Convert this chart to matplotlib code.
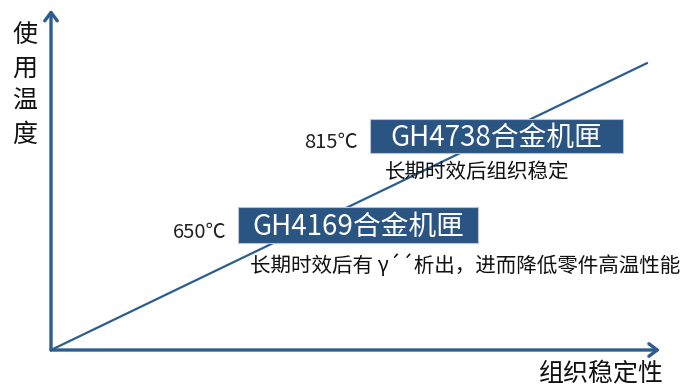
import matplotlib.pyplot as plt
from matplotlib.patches import Rectangle

plt.rcParams['font.family'] = ['Noto Sans CJK SC', 'DejaVu Sans']

# trend: higher service temperature with higher microstructure stability
trend_x = [0.0, 0.98]
trend_y = [0.0, 0.84]

alloys = ['GH4738合金机匣', 'GH4169合金机匣']
temps = ['815℃', '650℃']
notes = ['长期时效后组织稳定', '长期时效后有 γ´´析出，进而降低零件高温性能']
box_x = [0.524, 0.307]
box_y = [0.576, 0.313]
box_w = [0.415, 0.394]
box_h = [0.099, 0.105]
temp_x = [0.503, 0.288]
note_x = [0.548, 0.327]
note_y = [0.520, 0.246]

blue = '#2c5d8f'
box_blue = '#2a5482'

fig = plt.figure(figsize=(7, 3.87), dpi=100)
ax = fig.add_axes([51 / 700, 37 / 387, 609 / 700, 342 / 387])
ax.set_xlim(0, 1)
ax.set_ylim(0, 1)
ax.axis('off')

# axes drawn as arrows
ax.annotate('', xy=(1.0, 0), xytext=(0, 0), xycoords='axes fraction',
            arrowprops=dict(arrowstyle='->,head_length=0.6,head_width=0.45',
                            color=blue, lw=2.4, shrinkA=0, shrinkB=0))
ax.annotate('', xy=(0, 0.995), xytext=(0, 0), xycoords='axes fraction',
            arrowprops=dict(arrowstyle='->,head_length=0.6,head_width=0.45',
                            color=blue, lw=2.4, shrinkA=0, shrinkB=0))

ax.plot(trend_x, trend_y, color=blue, lw=1.6, zorder=2, solid_capstyle='butt')

for i in range(len(alloys)):
    ax.add_patch(Rectangle((box_x[i], box_y[i]), box_w[i], box_h[i],
                           facecolor=box_blue, edgecolor='#b8c4d2', lw=0.8,
                           zorder=3))
    ax.text(box_x[i] + box_w[i] / 2, box_y[i] + box_h[i] / 2 - 0.005, alloys[i],
            color='white', fontsize=20, fontweight='light',
            ha='center', va='center', zorder=4)
    ax.text(temp_x[i], box_y[i] + box_h[i] * 0.3, temps[i], fontsize=14.5,
            color='#222222', ha='right', va='center', zorder=4)
    ax.text(note_x[i], note_y[i], notes[i], fontsize=14.8, color='#111111',
            ha='left', va='center', zorder=4)

fig.text(25 / 700, 1 - 85 / 387, '使\n用\n温\n度', fontsize=18, color='#111111',
         ha='center', va='center', linespacing=1.35)
fig.text(601 / 700, 1 - 374 / 387, '组织稳定性', fontsize=18, color='#111111',
         ha='center', va='center')

fig.savefig('out.png', dpi=100)
